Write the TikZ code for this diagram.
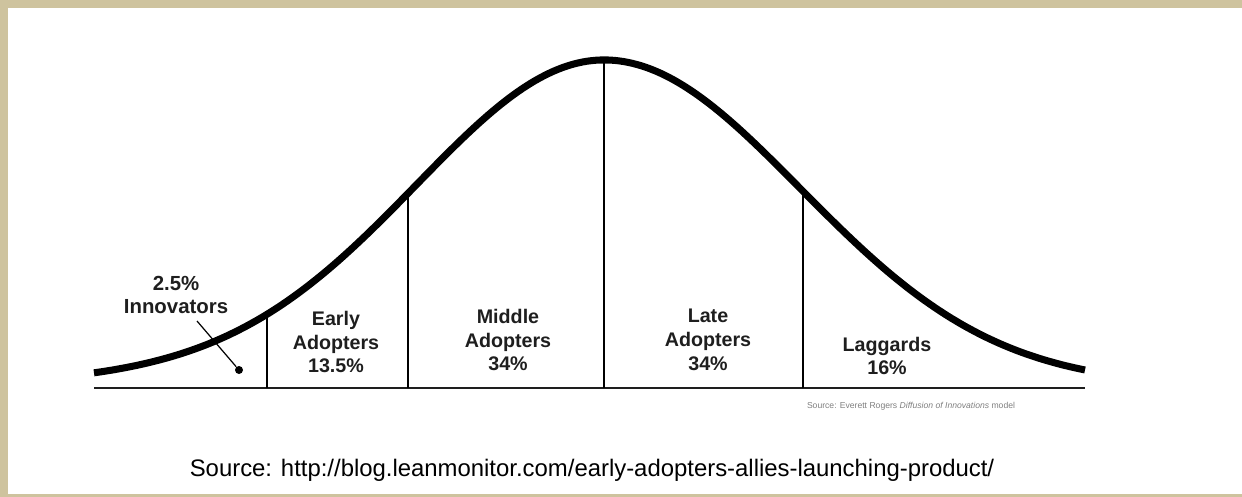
\documentclass[tikz,border=0pt]{standalone}
\usepackage{fontspec}
\setmainfont{Liberation Sans}
\definecolor{frametan}{RGB}{206,195,158}
\definecolor{inkgray}{RGB}{30,30,30}
\begin{document}
\begin{tikzpicture}[x=0.02cm,y=-0.02cm,
	declare function={bellL(\x)=388-300*exp(-0.5*((\x-604)/185)^2)-28*exp(-0.5*((\x-604)/330)^2);
		bellR(\x)=386-326*exp(-0.5*((\x-604)/196)^2);},
	lbl/.style={align=center, text=inkgray, font=\fontsize{11.2}{13.6}\selectfont\bfseries}]
			\useasboundingbox (0,0) rectangle (1242,497);
			\fill[frametan] (0,0) rectangle (1242,497);
			\fill[white] (8,8) rectangle (1242,494);
			
			\coordinate (axl) at (94,388);
			\coordinate (axr) at (1085,388);
			\coordinate (ba) at (267,388);
			\coordinate (bb) at (408,388);
			\coordinate (bc) at (604,388);
			\coordinate (bd) at (803,388);
			\coordinate (ta) at (267,{bellL(267)});
			\coordinate (tb) at (408,{bellL(408)});
			\coordinate (tc) at (604,60);
			\coordinate (td) at (803,{bellR(803)});
			
			\draw[line width=1.7pt, inkgray] (axl) -- (axr);
			\foreach \n in {a,b,c,d}
			\draw[line width=1.1pt] (b\n) -- (t\n);
			\draw[line width=4pt, line join=round] plot[domain=94:604, samples=120] (\x,{bellL(\x)})
				-- plot[domain=604:1085, samples=120] (\x,{bellR(\x)});
			
			\node[lbl, font=\fontsize{11.6}{13.6}\selectfont\bfseries] (inno) at (176,295) {2.5\%\\Innovators};
			\node[lbl] (early) at (336,342) {Early\\Adopters\\13.5\%};
			\node[lbl] (middle) at (508,340) {Middle\\Adopters\\34\%};
			\node[lbl] (late) at (708,340) {Late\\Adopters\\34\%};
			\node[lbl] (lag) at (887,356) {Laggards\\16\%};
			
			\node[circle, fill, inner sep=0pt, minimum size=0.16cm] (dot) at (239,370) {};
			\coordinate (innotip) at (197,321);
			\draw[line width=0.7pt] (innotip) -- (dot);
			
			\node[text=gray, font=\fontsize{4.9}{5.5}\selectfont] (rogers) at (911,406) {Source: Everett Rogers \textit{Diffusion of Innovations} model};
			\node[font=\fontsize{13.6}{16}\selectfont] (src) at (592,470) {Source: http://blog.leanmonitor.com/early-adopters-allies-launching-product/};
		\end{tikzpicture}
\end{document}
